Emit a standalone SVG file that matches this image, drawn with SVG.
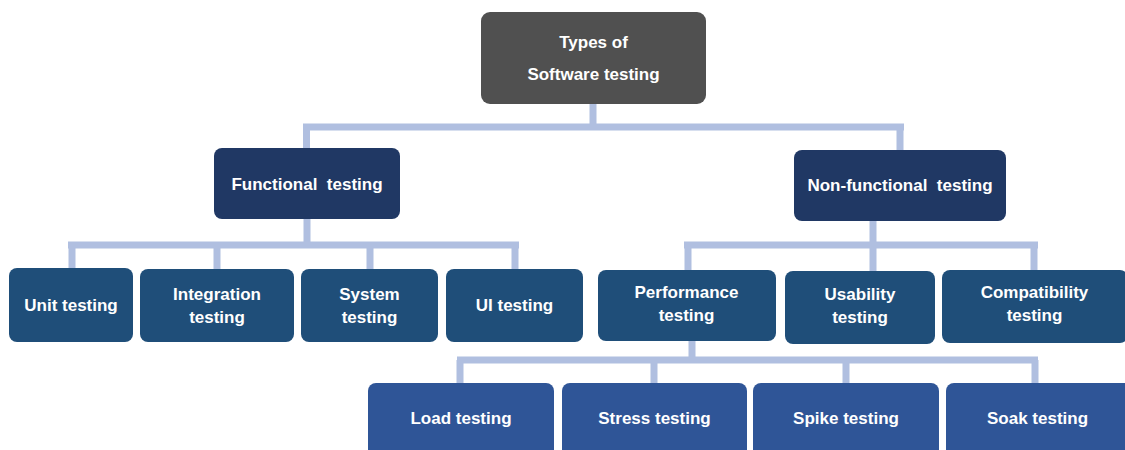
<svg xmlns="http://www.w3.org/2000/svg" width="1125" height="450" viewBox="0 0 1125 450">
  <style>
    .box { stroke: none; }
    .root { fill: #505050; }
    .l1 { fill: #203864; }
    .l2 { fill: #1f4e79; }
    .l3 { fill: #2f5597; }
    .lbl { fill: #ffffff; font-family: "Liberation Sans", Arial, sans-serif; font-weight: bold; font-size: 17px; text-anchor: middle; white-space: pre; }
    .wire { stroke: #b0bfe0; stroke-width: 7; fill: none; stroke-linecap: butt; }
  </style>
  <rect width="1125" height="450" fill="#ffffff"/>

  <!-- connectors -->
  <g id="connectors" class="wire">
    <!-- root to first level -->
    <path d="M593,104 V127 M303,127 H904 M306.5,127 V149 M900,127 V151"/>
    <!-- functional branch -->
    <path d="M307,219 V245 M68,245 H519 M72,245 V269 M217,245 V269 M370,245 V269 M515,245 V269"/>
    <!-- non-functional branch -->
    <path d="M873,221 V245 M684,245 H1038 M688,245 V271 M873,245 V272 M1034,245 V271"/>
    <!-- performance branch -->
    <path d="M692,341 V360 M457,360 H1038 M460,360 V384 M654,360 V384 M846,360 V384 M1035,360 V384"/>
  </g>

  <g id="root">
    <rect class="box root" x="481" y="12" width="225" height="92" rx="9"/>
    <text class="lbl" x="593.5" y="48">Types of</text>
    <text class="lbl" x="593.5" y="80">Software testing</text>
  </g>

  <g id="functional">
    <rect class="box l1" x="214" y="148" width="186" height="71" rx="8"/>
    <text class="lbl" x="307" y="190">Functional  testing</text>
  </g>
  <g id="non-functional">
    <rect class="box l1" x="794" y="150" width="212" height="71" rx="8"/>
    <text class="lbl" x="900" y="191">Non-functional  testing</text>
  </g>

  <g id="unit">
    <rect class="box l2" x="9" y="268" width="124" height="74" rx="8"/>
    <text class="lbl" x="71" y="311">Unit testing</text>
  </g>
  <g id="integration">
    <rect class="box l2" x="140" y="269" width="154" height="73" rx="8"/>
    <text class="lbl" x="217" y="300">Integration</text>
    <text class="lbl" x="217" y="323">testing</text>
  </g>
  <g id="system">
    <rect class="box l2" x="301" y="269" width="137" height="73" rx="8"/>
    <text class="lbl" x="369.5" y="300">System</text>
    <text class="lbl" x="369.5" y="323">testing</text>
  </g>
  <g id="ui">
    <rect class="box l2" x="446" y="269" width="137" height="73" rx="8"/>
    <text class="lbl" x="514.5" y="311">UI testing</text>
  </g>

  <g id="performance">
    <rect class="box l2" x="598" y="270" width="178" height="71" rx="8"/>
    <text class="lbl" x="686.5" y="298">Performance</text>
    <text class="lbl" x="686.5" y="321">testing</text>
  </g>
  <g id="usability">
    <rect class="box l2" x="785" y="271" width="150" height="73" rx="8"/>
    <text class="lbl" x="860" y="300">Usability</text>
    <text class="lbl" x="860" y="323">testing</text>
  </g>
  <g id="compatibility">
    <rect class="box l2" x="942" y="270" width="186" height="73" rx="8"/>
    <text class="lbl" x="1034.5" y="298">Compatibility</text>
    <text class="lbl" x="1034.5" y="321">testing</text>
  </g>

  <g id="load">
    <rect class="box l3" x="368" y="383" width="186" height="80" rx="8"/>
    <text class="lbl" x="461" y="424">Load testing</text>
  </g>
  <g id="stress">
    <rect class="box l3" x="562" y="383" width="185" height="80" rx="8"/>
    <text class="lbl" x="654.5" y="424">Stress testing</text>
  </g>
  <g id="spike">
    <rect class="box l3" x="753" y="383" width="186" height="80" rx="8"/>
    <text class="lbl" x="846" y="424">Spike testing</text>
  </g>
  <g id="soak">
    <rect class="box l3" x="946" y="383" width="186" height="80" rx="8"/>
    <text class="lbl" x="1037.5" y="424">Soak testing</text>
  </g>
</svg>
